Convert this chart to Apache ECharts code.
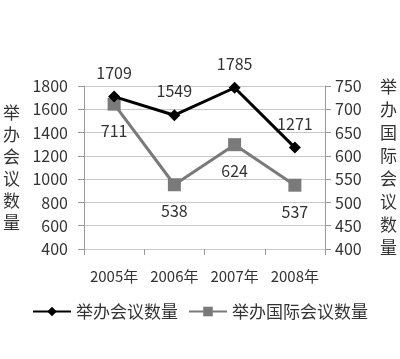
<!DOCTYPE html>
<html><head><meta charset="utf-8">
<script src="https://cdn.jsdelivr.net/npm/echarts@6/dist/echarts.min.js"></script>
<style>html,body{margin:0;padding:0;background:#fff}#c{width:400px;height:359px}</style>
</head><body><div id="c"></div>
<script>
const categories = ['2005年', '2006年', '2007年', '2008年'];
const meetings = [1709, 1549, 1785, 1271];
const intlMeetings = [711, 538, 624, 537];
const seriesNames = ['举办会议数量', '举办国际会议数量'];

const font = '"Noto Sans CJK SC", "Noto Sans", sans-serif';
const txt = '#333';
const chart = echarts.init(document.getElementById('c'), null, {renderer: 'canvas'});
chart.setOption({
  backgroundColor: '#fff',
  animation: false,
  textStyle: {fontFamily: font},
  grid: {left: 80, right: 73, top: 86, bottom: 110},
  legend: {
    top: 298, left: 'center',
    itemWidth: 38, itemHeight: 12, itemGap: 10,
    textStyle: {fontSize: 17, color: txt, fontFamily: font},
    data: [seriesNames[0], seriesNames[1]]
  },
  xAxis: {
    type: 'category', data: categories, boundaryGap: true,
    axisLine: {show: false},
    axisTick: {show: true, length: 6, lineStyle: {color: '#999'}},
    axisLabel: {fontSize: 15, color: txt, margin: 20, interval: 0, fontFamily: font}
  },
  yAxis: [
    {
      type: 'value', min: 400, max: 1800, interval: 200,
      name: '举\n办\n会\n议\n数\n量', nameLocation: 'middle', nameGap: 64, nameRotate: 0,
      nameTextStyle: {fontSize: 17, color: txt, lineHeight: 22, fontFamily: font, padding: [0, 0, 16, 0]},
      axisLine: {show: true, lineStyle: {color: '#999'}},
      axisTick: {show: true, length: 6, lineStyle: {color: '#999'}},
      axisLabel: {fontSize: 16, color: txt, margin: 16, fontFamily: font, formatter: v => String(v)},
      splitLine: {lineStyle: {color: '#c8c8c8'}}
    },
    {
      type: 'value', min: 400, max: 750, interval: 50, position: 'right',
      name: '举\n办\n国\n际\n会\n议\n数\n量', nameLocation: 'middle', nameGap: 55, nameRotate: 0,
      nameTextStyle: {fontSize: 17, color: txt, lineHeight: 23, fontFamily: font},
      axisLine: {show: true, lineStyle: {color: '#999'}},
      axisTick: {show: true, length: 6, lineStyle: {color: '#999'}},
      axisLabel: {fontSize: 16, color: txt, margin: 10, fontFamily: font, formatter: v => String(v)},
      splitLine: {show: false}
    }
  ],
  series: [
    {
      name: seriesNames[0], type: 'line', yAxisIndex: 0, data: meetings,
      symbol: 'diamond', symbolSize: 12,
      lineStyle: {color: '#000', width: 3},
      itemStyle: {color: '#000'},
      label: {show: true, position: 'top', distance: 10, fontSize: 16, color: txt, fontFamily: font},
      z: 3
    },
    {
      name: seriesNames[1], type: 'line', yAxisIndex: 1, data: intlMeetings,
      symbol: 'rect', symbolSize: 13,
      lineStyle: {color: '#7a7a7a', width: 3},
      itemStyle: {color: '#7a7a7a'},
      label: {show: true, position: 'bottom', distance: 12, fontSize: 16, color: txt, fontFamily: font},
      z: 2
    }
  ]
});
</script></body></html>
